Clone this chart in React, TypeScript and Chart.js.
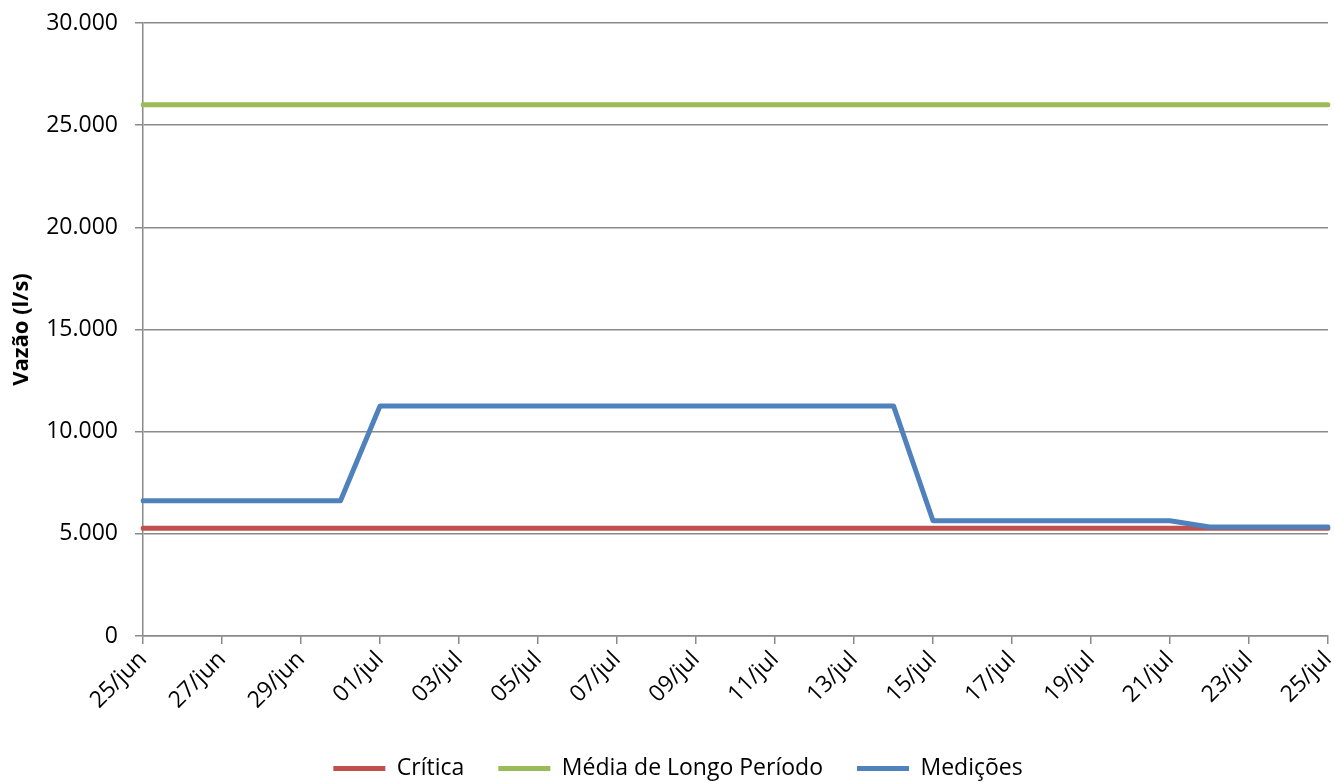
import { useEffect, useRef } from 'react';
import Chart from 'chart.js/auto';

const DATES = [
  '25/jun', '26/jun', '27/jun', '28/jun', '29/jun', '30/jun',
  '01/jul', '02/jul', '03/jul', '04/jul', '05/jul', '06/jul', '07/jul', '08/jul',
  '09/jul', '10/jul', '11/jul', '12/jul', '13/jul', '14/jul', '15/jul', '16/jul',
  '17/jul', '18/jul', '19/jul', '20/jul', '21/jul', '22/jul', '23/jul', '24/jul', '25/jul'
];

const CRITICA = [
  5270, 5270, 5270, 5270, 5270, 5270, 5270, 5270, 5270, 5270, 5270, 5270, 5270, 5270, 5270, 5270,
  5270, 5270, 5270, 5270, 5270, 5270, 5270, 5270, 5270, 5270, 5270, 5270, 5270, 5270, 5270
];

const MEDIA_LONGO = [
  26000, 26000, 26000, 26000, 26000, 26000, 26000, 26000, 26000, 26000, 26000, 26000, 26000, 26000,
  26000, 26000, 26000, 26000, 26000, 26000, 26000, 26000, 26000, 26000, 26000, 26000, 26000, 26000,
  26000, 26000, 26000
];

const MEDICOES = [
  6620, 6620, 6620, 6620, 6620, 6620,
  11260, 11260, 11260, 11260, 11260, 11260, 11260, 11260, 11260, 11260, 11260, 11260, 11260, 11260,
  5640, 5640, 5640, 5640, 5640, 5640, 5640,
  5330, 5330, 5330, 5330
];

const Y_TICKS = [0, 5000, 10000, 15000, 20000, 25000, 30000];

const FONT = '"Open Sans", sans-serif';
const AXIS_GREY = '#8a8a8a';
const FONT_SIZE = 23;
const LEGEND_GAP = 34;

function fmt(v: number): string {
  if (v === 0) return '0';
  const s = String(Math.round(v));
  return s.replace(/\B(?=(\d{3})+(?!\d))/g, '.');
}

// nudges the legend row down/right a little, like the Excel original
const legendNudge = {
  id: 'legendNudge',
  afterLayout(chart: any) {
    const lg = chart.legend;
    if (!lg) return;
    lg.top += 8;
    lg.bottom += 8;
    lg.left += 14;
    lg.right += 14;
  }
};

export default function App() {
  const canvasRef = useRef<HTMLCanvasElement | null>(null);

  useEffect(() => {
    const canvas = canvasRef.current;
    if (!canvas) return;

    const chart = new Chart(canvas, {
      type: 'line',
      data: {
        labels: DATES,
        datasets: [
          {
            label: 'Crítica',
            data: CRITICA,
            borderColor: '#C0504D',
            backgroundColor: '#C0504D',
            borderWidth: 5,
            borderCapStyle: 'round',
            pointRadius: 0,
            tension: 0,
            order: 2
          },
          {
            label: 'Média de Longo Período',
            data: MEDIA_LONGO,
            borderColor: '#9BBB59',
            backgroundColor: '#9BBB59',
            borderWidth: 5,
            borderCapStyle: 'round',
            pointRadius: 0,
            tension: 0,
            order: 1
          },
          {
            label: 'Medições',
            data: MEDICOES,
            borderColor: '#4F81BD',
            backgroundColor: '#4F81BD',
            borderWidth: 5,
            borderCapStyle: 'round',
            borderJoinStyle: 'round',
            pointRadius: 0,
            tension: 0,
            order: 0
          }
        ]
      },
      options: {
        responsive: true,
        maintainAspectRatio: false,
        animation: false,
        layout: { padding: { left: 0, right: 7, top: 23, bottom: 0 } },
        plugins: {
          tooltip: { enabled: false },
          legend: {
            position: 'bottom',
            labels: {
              font: { family: FONT, size: FONT_SIZE },
              color: '#000',
              usePointStyle: true,
              pointStyle: 'line',
              pointStyleWidth: 52,
              boxHeight: FONT_SIZE,
              padding: LEGEND_GAP,
              sort: (a, b) => (a.datasetIndex ?? 0) - (b.datasetIndex ?? 0)
            }
          }
        },
        scales: {
          x: {
            type: 'category',
            offset: false,
            afterFit: (scale: any) => {
              scale.height = 136 - FONT_SIZE - LEGEND_GAP;
              scale.paddingRight = 0;
            },
            border: { display: true, color: AXIS_GREY, width: 1.5 },
            grid: {
              drawOnChartArea: false,
              drawTicks: true,
              tickLength: 8,
              color: AXIS_GREY,
              lineWidth: 1.5
            },
            ticks: {
              autoSkip: false,
              maxRotation: 45,
              minRotation: 45,
              padding: 2,
              color: '#000',
              font: { family: FONT, size: FONT_SIZE },
              callback: (_v: any, i: number) => (i % 2 === 0 ? DATES[i] : null)
            }
          },
          y: {
            min: 0,
            max: 30000,
            afterFit: (scale: any) => {
              scale.width = 143;
              scale.paddingTop = 0;
              scale.paddingBottom = 0;
            },
            afterBuildTicks: (scale: any) => {
              scale.ticks = Y_TICKS.map(v => ({ value: v }));
            },
            border: { display: true, color: AXIS_GREY, width: 1.5 },
            grid: {
              color: AXIS_GREY,
              lineWidth: 1.5,
              drawTicks: true,
              tickLength: 8
            },
            title: {
              display: true,
              text: 'Vazão (l/s)',
              color: '#000',
              font: { family: FONT, size: 22, weight: 'bold' },
              padding: { top: 9, bottom: 0 }
            },
            ticks: {
              padding: 17,
              color: '#000',
              font: { family: FONT, size: FONT_SIZE },
              callback: (v: any) => fmt(Number(v))
            }
          }
        }
      },
      plugins: [legendNudge]
    });

    return () => {
      chart.destroy();
    };
  }, []);

  return (
    <div style={{ position: 'fixed', left: 0, top: 0, width: 1335, height: 782, background: '#fff' }}>
      <canvas ref={canvasRef} />
    </div>
  );
}
